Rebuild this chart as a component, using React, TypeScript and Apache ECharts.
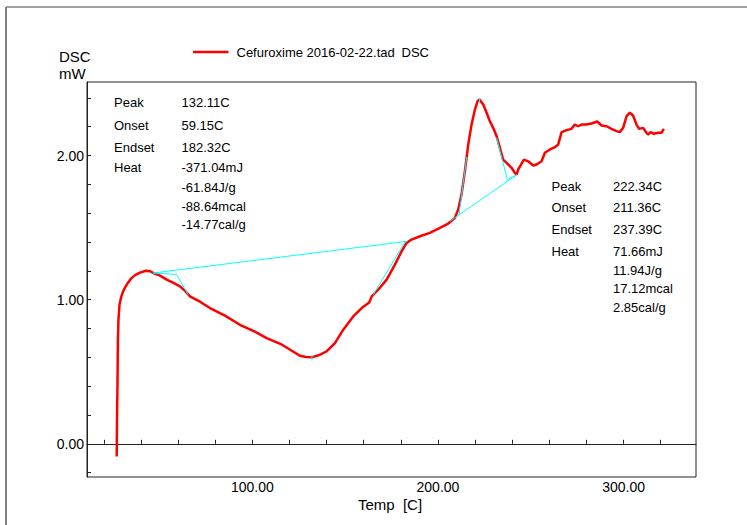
import React, { useEffect, useRef } from "react";
import * as echarts from "echarts";

// Temperature (°C) and DSC heat flow (mW)
const temperature = [
  26.95, 27.1, 27.4, 27.6, 27.9, 28.45, 29.26, 30.34, 31.41, 33.03, 34.64, 36.8, 39.5, 42.7, 44.9,
  46.65, 50.26, 53.87, 57.26, 61.0, 63.7, 66.4, 71.8, 77.2, 85.26, 93.3, 101.4, 107.7, 115.1, 120.4,
  125.65, 128.9, 132.1, 136.4, 140.0, 144.5, 149.0, 154.35, 158.9, 162.97, 164.3, 167.8, 172.35, 176.8,
  180.4, 183.1, 185.8, 190.3, 195.65, 201.05, 205.5, 209.1, 210.9, 212.7, 214.5, 216.3, 218.1, 219.9,
  221.35, 222.34, 224.4, 226.2, 227.97, 229.75, 231.6, 233.35, 235.1, 236.95, 239.65, 241.4, 242.35,
  243.2, 244.5, 246.3, 248.6, 251.3, 253.1, 255.8, 257.6, 260.3, 262.96, 264.75, 266.6, 269.3, 271.96,
  273.7, 275.5, 277.35, 280.0, 282.7, 285.75, 288.1, 290.8, 293.5, 296.2, 297.96, 299.75, 301.6, 303.35,
  305.1, 306.95, 308.35, 310.5, 312.3, 313.2, 314.5, 316.3, 318.6, 320.4, 321.7,
];
const heatFlow = [
  -0.087, 0.167, 0.444, 0.722, 0.861, 0.965, 1.014, 1.056, 1.083, 1.118, 1.146, 1.17, 1.188, 1.201, 1.198,
  1.185, 1.167, 1.139, 1.118, 1.092, 1.0625, 1.023, 0.986, 0.942, 0.889, 0.826, 0.778, 0.734, 0.694, 0.653,
  0.611, 0.602, 0.6, 0.618, 0.641, 0.699, 0.792, 0.884, 0.942, 0.981, 1.023, 1.069, 1.139, 1.243,
  1.335, 1.394, 1.417, 1.44, 1.463, 1.498, 1.528, 1.567, 1.625, 1.729, 1.891, 2.076, 2.215, 2.319,
  2.377, 2.389, 2.354, 2.297, 2.238, 2.192, 2.134, 2.053, 1.972, 1.949, 1.915, 1.88, 1.868,
  1.903, 1.931, 1.972, 1.96, 1.931, 1.938, 1.96, 2.019, 2.042, 2.058, 2.076, 2.162, 2.176, 2.185,
  2.215, 2.203, 2.215, 2.215, 2.222, 2.236, 2.208, 2.203, 2.185, 2.169, 2.162, 2.192, 2.273, 2.297,
  2.278, 2.215, 2.185, 2.192, 2.158, 2.146, 2.162, 2.151, 2.158, 2.158, 2.185,
];

// Analysis construction lines (temperature, heat flow)
const leftBaseline = [[46.6, 1.185], [183.5, 1.405]];
const leftOnsetTangent = [[46.6, 1.185], [59.15, 1.175], [65.5, 1.035]];
const leftEndsetTangent = [[182.32, 1.402], [165.1, 1.034]];
const leftPeakMark = [[132.11, 0.618], [132.11, 0.578]];
const rightBaseline = [[206.4, 1.544], [242.4, 1.866]];
const rightOnsetTangent = [[211.36, 1.588], [215.5, 1.99]];
const rightEndsetTangent = [[242.4, 1.866], [237.39, 1.833], [231.6, 2.123]];
const rightPeakMark = [[222.34, 2.4], [222.34, 2.366]];

// Axis ticks and labels
const xTickValues = [20, 40, 60, 80, 100, 120, 140, 160, 180, 200, 220, 240, 260, 280, 300, 320];
const xLabelValues = [100, 200, 300];
const yTickValues = [-0.2, 0, 0.2, 0.4, 0.6, 0.8, 1, 1.2, 1.4, 1.6, 1.8, 2, 2.2, 2.4];
const yLabelValues = [0, 1, 2];

// Annotation texts
const annotationNames = ["Peak", "Onset", "Endset", "Heat"];
const leftPeakValues = ["132.11C", "59.15C", "182.32C", "-371.04mJ", "-61.84J/g", "-88.64mcal", "-14.77cal/g"];
const rightPeakValues = ["222.34C", "211.36C", "237.39C", "71.66mJ", "11.94J/g", "17.12mcal", "2.85cal/g"];
const seriesName = "Cefuroxime 2016-02-22.tad";

const FONT = "'Liberation Sans', Arial, sans-serif";

export default function App() {
  const ref = useRef<HTMLDivElement>(null);
  useEffect(() => {
    if (!ref.current) return;
    const chart = echarts.init(ref.current, undefined, { renderer: "svg" });
    const curve = temperature.map((t, i) => [t, heatFlow[i]]);
    const cyan = (data: number[][]) => ({
      type: "line",
      data,
      showSymbol: false,
      silent: true,
      z: 3,
      lineStyle: { color: "#00ffff", width: 1 },
    });

    const leftY = [102, 125, 147.5, 167];
    const leftValY = [102, 125, 147.5, 167, 187, 206, 224.5];
    const rightY = [186, 207.5, 229.5, 251];
    const rightValY = [186, 207.5, 229.5, 251, 270, 288.5, 307];
    const txt = (text: string, x: number, y: number, size = 13, align = "left") => ({
      type: "text",
      x,
      y,
      silent: true,
      style: {
        text,
        fill: "#000",
        font: `${size}px ${FONT}`,
        textAlign: align,
        textVerticalAlign: "middle",
      },
    });

    const graphics: any[] = [
      { type: "line", shape: { x1: 6, y1: 7, x2: 747, y2: 7 }, style: { stroke: "#808080", lineWidth: 1.5 } },
      { type: "line", shape: { x1: 6, y1: 7, x2: 6, y2: 525 }, style: { stroke: "#808080", lineWidth: 2 } },
      { type: "line", shape: { x1: 193, y1: 52, x2: 228.5, y2: 52 }, style: { stroke: "#ff0000", lineWidth: 2.5 } },
      txt(seriesName, 236.5, 52.5),
      txt("DSC", 401.5, 52.5),
      txt("DSC", 59, 56, 15),
      txt("mW", 59, 73, 15),
      txt("Temp  [C]", 390, 504, 15, "center"),
    ];
    annotationNames.forEach((n, i) => {
      graphics.push(txt(n, 114, leftY[i]));
      graphics.push(txt(n, 551.5, rightY[i]));
    });
    leftPeakValues.forEach((v, i) => graphics.push(txt(v, 181.5, leftValY[i])));
    rightPeakValues.forEach((v, i) => graphics.push(txt(v, 613, rightValY[i])));

    chart.setOption({
      animation: false,
      grid: {
        left: 87,
        top: 82,
        width: 609,
        height: 395,
        show: true,
        borderColor: "#222",
        borderWidth: 1,
        backgroundColor: "transparent",
      },
      xAxis: {
        type: "value",
        min: 10.95,
        max: 339,
        splitLine: { show: false },
        axisLine: { show: true, lineStyle: { color: "#222", width: 1 } },
        axisTick: {
          show: true,
          inside: true,
          length: 4,
          customValues: xTickValues,
          lineStyle: { color: "#222" },
        },
        axisLabel: {
          customValues: xLabelValues,
          formatter: (v: number) => v.toFixed(2),
          color: "#000",
          fontSize: 14,
          fontFamily: FONT,
          margin: 3,
        },
      },
      yAxis: {
        type: "value",
        min: -0.23,
        max: 2.51,
        splitLine: { show: false },
        axisLine: { show: true, lineStyle: { color: "#222", width: 1 } },
        axisTick: {
          show: true,
          inside: true,
          length: 4,
          customValues: yTickValues,
          lineStyle: { color: "#222" },
        },
        axisLabel: {
          customValues: yLabelValues,
          formatter: (v: number) => v.toFixed(2),
          color: "#000",
          fontSize: 14,
          fontFamily: FONT,
          margin: 3,
        },
      },
      series: [
        cyan(leftBaseline),
        cyan(leftOnsetTangent),
        cyan(leftEndsetTangent),
        cyan(leftPeakMark),
        cyan(rightBaseline),
        cyan(rightOnsetTangent),
        cyan(rightEndsetTangent),
        cyan(rightPeakMark),
        {
          type: "line",
          name: "DSC",
          data: curve,
          showSymbol: false,
          silent: true,
          z: 2,
          lineStyle: { color: "#ff0000", width: 2.5 },
        },
      ],
      graphic: graphics,
    });
    return () => chart.dispose();
  }, []);
  return (
    <div
      ref={ref}
      style={{ position: "fixed", left: 0, top: 0, width: 747, height: 525, background: "#fff" }}
    />
  );
}
